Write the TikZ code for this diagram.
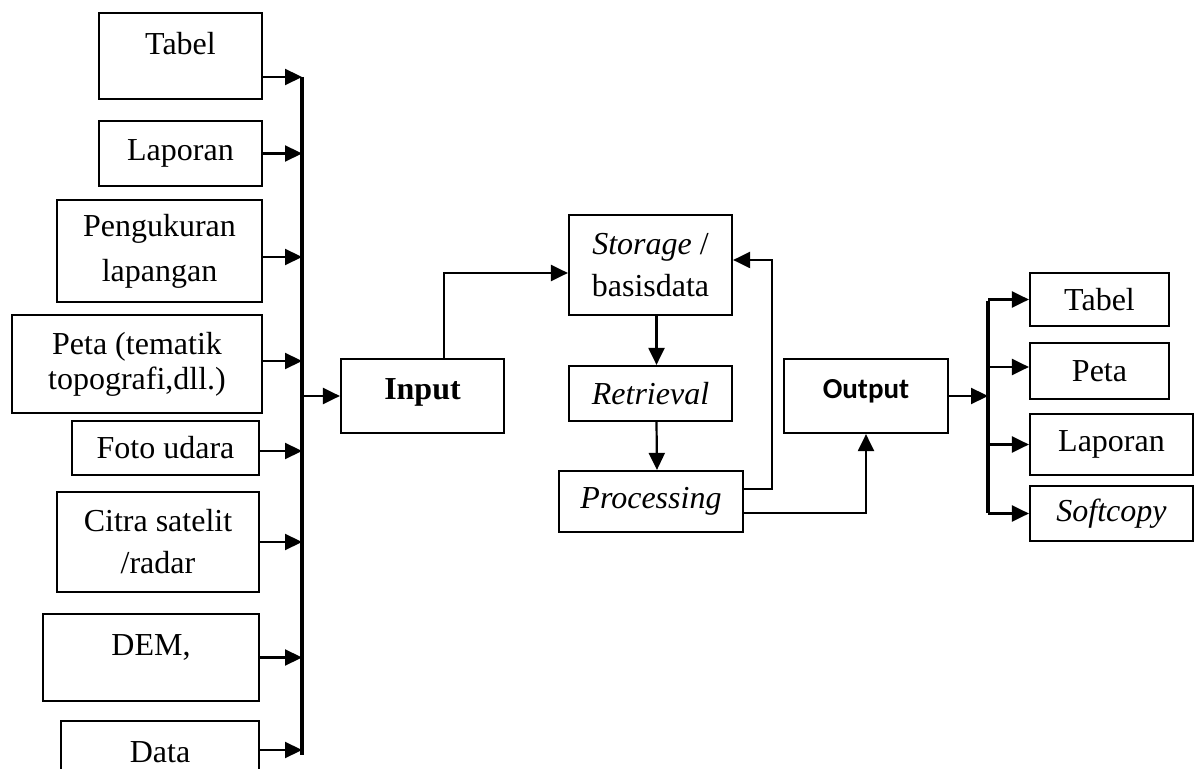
\documentclass[tikz,border=0pt]{standalone}
\usepackage{fontspec}
\setmainfont{Liberation Serif}
\newfontfamily\calibri{Carlito}
\usetikzlibrary{arrows.meta}

\begin{document}
\begin{tikzpicture}[
      x=0.5pt, y=-0.5pt,
      box/.style={draw, line width=1.1pt, inner sep=0pt, align=center, font=\fontsize{16}{18}\selectfont},
      arr/.style={line width=1.1pt, -{Triangle[length=8.5pt,width=8pt]}},
      bus/.style={line width=2.4pt}
    ]
      \clip (0,0) rectangle (1199,769);

      % data sources
      \node[box, minimum width=81.5pt, minimum height=43pt, text depth=13pt] (tabel) at (180.5,56) {Tabel};
      \node[box, minimum width=81.5pt, minimum height=32.5pt] (laporan) at (180.5,153.5) {Laporan};
      \node[box, minimum width=102.5pt, minimum height=51pt] (ukur) at (159.5,251) {Pengukuran\\[4.5pt]lapangan};
      \node[box, minimum width=125pt, minimum height=49pt] (peta) at (137,364) {Peta (tematik\\[-0.5pt]topografi,dll.)};
      \node[box, minimum width=93.5pt, minimum height=27pt] (foto) at (165.5,448) {Foto udara};
      \node[box, minimum width=101pt, minimum height=50pt] (citra) at (158,542) {Citra satelit\\[3pt]/radar};
      \node[box, minimum width=108pt, minimum height=43.5pt, text depth=12.5pt] (dem) at (151,657.5) {DEM,};
      \node[box, minimum width=99pt, minimum height=43pt, text depth=12pt] (data) at (160,764) {Data};

      % processing chain
      \node[box, minimum width=81.5pt, minimum height=37pt, text depth=7pt, font=\fontsize{16}{18}\selectfont\bfseries] (input) at (422.5,396) {Input};
      \node[box, minimum width=81.5pt, minimum height=50pt] (storage) at (650.5,265) {\textit{Storage} /\\[3pt]basisdata};
      \node[box, minimum width=81.5pt, minimum height=27.5pt] (retrieval) at (650.5,393.5) {\textit{Retrieval}};
      \node[box, minimum width=92pt, minimum height=30.5pt] (processing) at (651,501.5) {\textit{Processing}};
      \node[box, minimum width=82pt, minimum height=37pt, text depth=7pt, font=\calibri\fontsize{14.5}{17}\selectfont\bfseries] (output) at (866,396) {Output};

      % products
      \node[box, minimum width=69.5pt, minimum height=26.5pt] (tabelOut) at (1099.5,299.5) {Tabel};
      \node[box, minimum width=69.5pt, minimum height=28pt] (petaOut) at (1099.5,371) {Peta};
      \node[box, minimum width=81.5pt, minimum height=30.5pt] (laporanOut) at (1111.5,444.5) {Laporan};
      \node[box, minimum width=81.5pt, minimum height=27.5pt] (softcopy) at (1111.5,513.5) {\textit{Softcopy}};

      \coordinate (inTop) at (302,77);
      \coordinate (inBot) at (302,755);
      \coordinate (outTop) at (988,301);
      \coordinate (outBot) at (988,513);

      \foreach \n/\s in {tabel/-10.5, laporan/0, ukur/-3, peta/1.5, foto/-1.5, citra/0, dem/0, data/7}
        \draw[arr] ([yshift=\s pt]\n.east) coordinate (src) -- (src -| inTop);
      \draw[bus] (inTop) -- (inBot);
      \draw[arr] (input.west -| inTop) -- (input.west);

      \draw[arr] ([xshift=10.75pt]input.north) |- ([yshift=-4pt]storage.west);
      \draw[arr] ([xshift=3pt]storage.south) -- ([xshift=3pt]retrieval.north);
      \draw[arr] ([xshift=3pt]retrieval.south) -- ([xshift=3pt]processing.north);
      \draw[arr] ([yshift=6.25pt]processing.east) -- ++(14pt,0) |- ([yshift=2.5pt]storage.east);
      \draw[arr] ([yshift=-5.75pt]processing.east) -| (output.south);

      \draw[arr] (output.east) -- (output.east -| outTop);
      \draw[bus] (outTop) -- (outBot);
      \foreach \n/\s in {tabelOut/0, petaOut/2, laporanOut/0, softcopy/0} {
        \path ([yshift=\s pt]\n.west) coordinate (dst);
        \draw[arr] (dst -| outTop) -- (dst);
      }
    \end{tikzpicture}
\end{document}
